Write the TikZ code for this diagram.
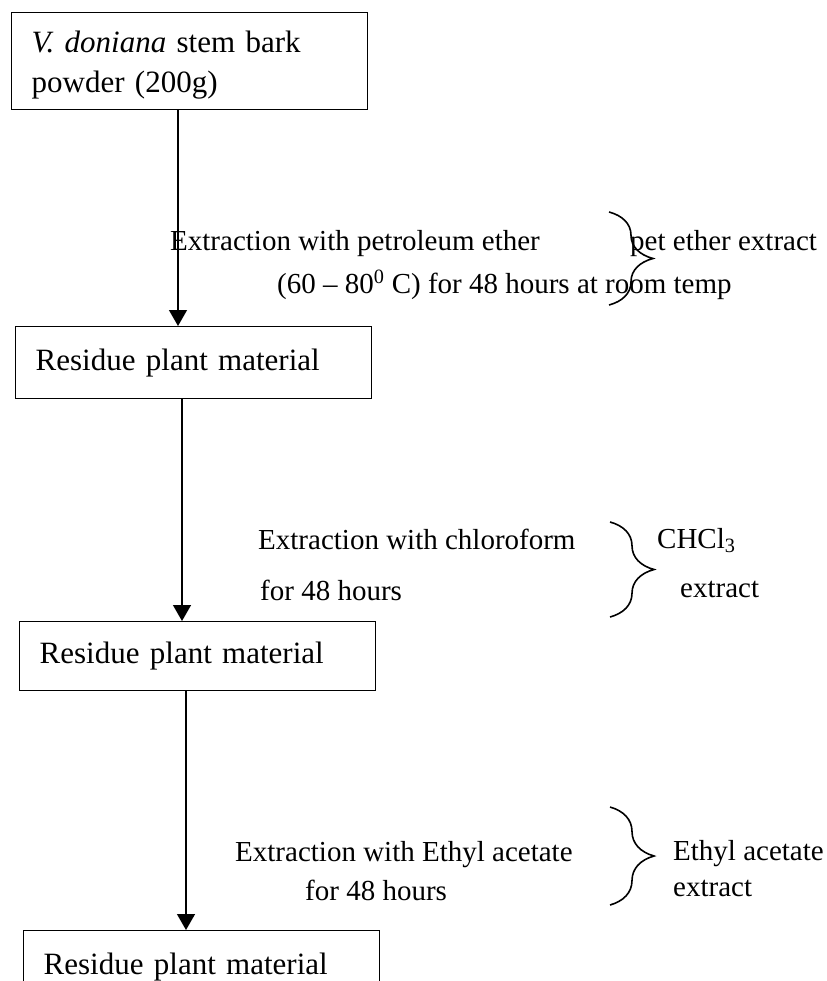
\documentclass[tikz,border=0pt]{standalone}
\usepackage{fontspec}
\setmainfont{Liberation Serif}
\usetikzlibrary{arrows.meta,decorations.pathreplacing}

\begin{document}
\begin{tikzpicture}[x=1pt,y=-1pt,
	box/.style={draw,line width=1.4pt,shape=rectangle,anchor=north west,minimum width=356pt,text width=316pt,inner xsep=20pt,inner ysep=0pt,align=left,font=\fontsize{31}{40}\selectfont},
	lbl/.style={anchor=base west,inner sep=0pt,font=\fontsize{29}{35}\selectfont},
	flow/.style={line width=1.4pt,-{Triangle[width=18pt,length=16pt]}},
	brc/.style={line width=1.6pt,decorate,decoration={brace,amplitude=44pt}}]
		\useasboundingbox (0,0) rectangle (826,981);
		\draw (11,12) 	node (powder) [box,minimum height=97pt] {\rule{0pt}{30pt}\textit{V. doniana} stem bark\\powder (200g)};
		\draw (15,326) 	node (res1) [box,minimum height=72pt] {Residue plant material};
		\draw (19,621) 	node (res2) [box,minimum height=69pt] {Residue plant material};
		\draw (23,930) 	node (res3) [box,minimum height=72pt] {Residue plant material};
		\draw (170,251) 	node (ext1a) [lbl] {Extraction with petroleum ether};
		\draw (277,293) 	node (ext1b) [lbl] {(60 -- 80\textsuperscript{0} C) for 48 hours at room temp};
		\draw (630,251) 	node (out1) [lbl] {pet ether extract};
		\draw (258,549) 	node (ext2a) [lbl] {Extraction with chloroform};
		\draw (260,600) 	node (ext2b) [lbl] {for 48 hours};
		\draw (657,548) 	node (out2a) [lbl] {CHCl\textsubscript{3}};
		\draw (680,597) 	node (out2b) [lbl] {extract};
		\draw (235,861) 	node (ext3a) [lbl] {Extraction with Ethyl acetate};
		\draw (305,900) 	node (ext3b) [lbl] {for 48 hours};
		\draw (673,860) 	node (out3a) [lbl] {Ethyl acetate};
		\draw (673,896) 	node (out3b) [lbl] {extract};
		\draw [flow] (powder.south -| 178,0) -- (res1.north -| 178,0);
		\draw [flow] (res1.south -| 182,0) -- (res2.north -| 182,0);
		\draw [flow] (res2.south -| 186,0) -- (res3.north -| 186,0);
		\draw [brc] (609,212) -- (609,305);
		\draw [brc] (610,522) -- (610,617);
		\draw [brc] (610,807) -- (610,905);
	\end{tikzpicture}
\end{document}
